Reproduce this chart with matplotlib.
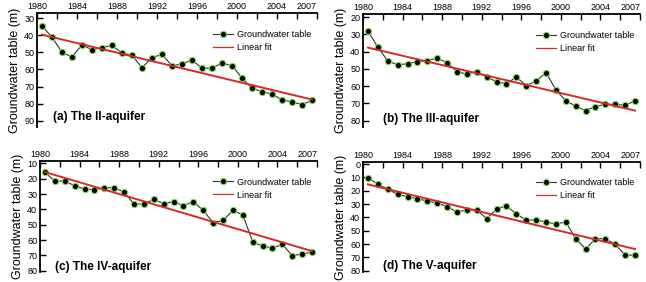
import numpy as np
import matplotlib
matplotlib.use("Agg")
import matplotlib.pyplot as plt

plt.rcParams['font.family'] = ['Liberation Sans', 'DejaVu Sans']

years = np.arange(1980, 2008)

# groundwater table depth (m)
gw_ii = [34.6, 41.0, 50.0, 52.6, 45.6, 48.4, 47.2, 45.8, 50.4, 51.6,
         59.0, 53.0, 51.2, 57.8, 56.8, 54.4, 59.2, 59.2, 56.2, 57.8,
         65.0, 71.0, 73.0, 74.4, 77.8, 79.0, 80.6, 78.0]
gw_iii = [27.9, 37.4, 45.3, 47.7, 46.9, 45.7, 45.1, 43.8, 46.3, 51.5,
          53.0, 51.5, 54.8, 57.3, 58.7, 54.6, 59.7, 57.1, 52.1, 62.2,
          68.4, 71.6, 74.2, 71.8, 70.5, 70.5, 71.1, 68.5]
gw_iv = [15.9, 21.7, 21.5, 24.6, 26.7, 27.2, 25.9, 25.9, 28.7, 36.5,
         36.5, 33.5, 36.3, 35.0, 37.6, 35.0, 40.7, 48.7, 47.2, 40.7,
         43.5, 61.3, 63.9, 65.2, 62.8, 70.2, 69.1, 67.8]
gw_v = [10.3, 15.3, 18.8, 22.8, 24.5, 26.0, 27.8, 29.3, 32.0, 36.0,
        34.5, 34.5, 41.0, 33.8, 31.3, 37.5, 42.0, 42.0, 43.5, 45.0,
        43.5, 56.0, 63.8, 56.0, 56.0, 60.3, 68.3, 68.3]

# linear fit values at first and last year
fit_ii = [39.6, 77.6]
fit_iii = [37.6, 74.2]
fit_iv = [15.7, 67.2]
fit_v = [15.3, 63.8]

titles = ["(a) The II-aquifer", "(b) The III-aquifer",
          "(c) The IV-aquifer", "(d) The V-aquifer"]
series = [gw_ii, gw_iii, gw_iv, gw_v]
fits = [fit_ii, fit_iii, fit_iv, fit_v]
ylims = [(93.7, 26.9), (83.7, 18.1), (80.8, 8.5), (81.0, -1.5)]
yticks = [np.arange(30, 91, 10), np.arange(20, 81, 10),
          np.arange(10, 81, 10), np.arange(0, 81, 10)]

W, H = 646, 282
boxes = [(37, 13, 280, 114), (363, 14, 277, 113),
         (40, 161, 277, 111), (363, 162, 277, 110)]
label_pos = [(0.057, 0.088), (0.072, 0.071), (0.054, 0.045), (0.072, 0.055)]

fig = plt.figure(figsize=(W / 100, H / 100), dpi=100)

for i in range(4):
    l, t, w, h = boxes[i]
    ax = fig.add_axes([l / W, (H - t - h) / H, w / W, h / H])
    x = years + 0.5  # annual values plotted mid-year
    ax.plot(x, series[i], color="#333333", lw=0.8, marker="o", ms=4.5,
            mfc="black", mec="#7ed957", mew=0.8, label="Groundwater table")
    ax.plot([x[0], x[-1]], fits[i], color="#d42a2a", lw=1.4, label="Linear fit")

    ax.set_xlim(1980, 2008)
    ax.set_ylim(*ylims[i])
    ax.set_yticks(yticks[i])

    major = np.arange(1980, 2009, 2)
    ax.set_xticks(major)
    ax.set_xticklabels([str(y) if (y % 4 == 0 and y <= 2004) else "" for y in major])
    ax.set_xticks([2007], minor=True)
    ax.set_xticklabels(["2007"], minor=True)
    ax.xaxis.tick_top()
    ax.tick_params(axis="x", which="major", direction="in", length=4, width=1,
                   labelsize=6.5, pad=1.5, top=True, bottom=False)
    ax.tick_params(axis="x", which="minor", length=0, labelsize=6.5, pad=1.5,
                   top=True, bottom=False, labeltop=True, labelbottom=False)
    ax.tick_params(axis="y", direction="in", length=4, width=1,
                   labelsize=6.5, pad=2)

    for s in ["right", "bottom"]:
        ax.spines[s].set_visible(False)
    for s in ["left", "top"]:
        ax.spines[s].set_linewidth(1.3)

    ax.set_ylabel("Groundwater table (m)", fontsize=9, labelpad=2)
    ax.text(label_pos[i][0], label_pos[i][1], titles[i], transform=ax.transAxes,
            fontsize=8.5, fontweight="bold", va="center", ha="left")
    leg = ax.legend(loc="upper right", frameon=False, fontsize=6.5, handlelength=2.3,
                    labelspacing=0.45, handletextpad=0.45, borderaxespad=0.2,
                    bbox_to_anchor=(1.0, 0.9))
    leg.get_lines()[1].set_linewidth(0.9)

fig.savefig("out.png", dpi=100)
